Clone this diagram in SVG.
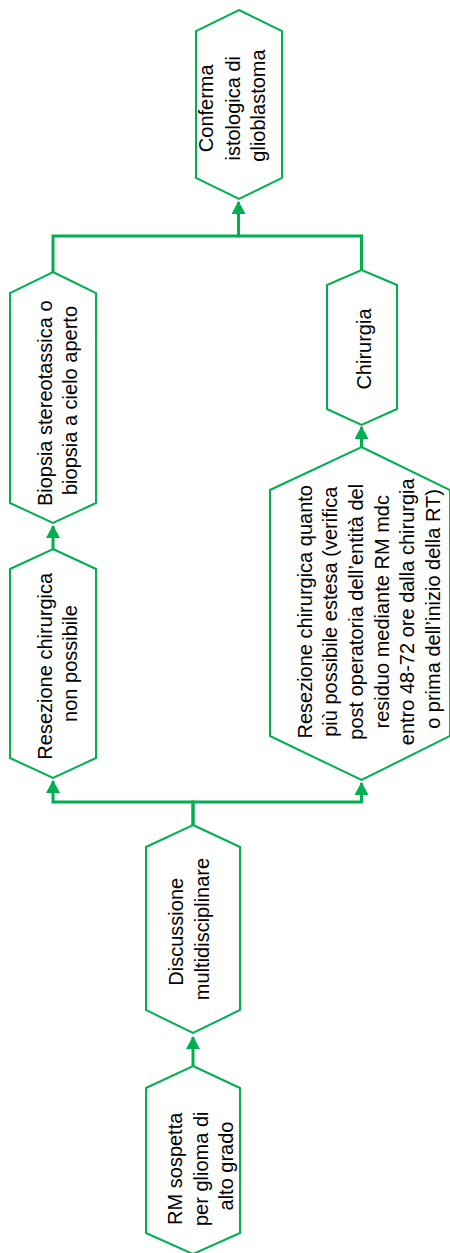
<svg xmlns="http://www.w3.org/2000/svg" width="450" height="1253" viewBox="0 0 450 1253">
  <style>
    .node { fill: #ffffff; stroke: #00B050; stroke-width: 2; stroke-linejoin: miter; }
    .link { fill: none; stroke: #00B050; stroke-width: 3; }
    .label { font-family: "Liberation Sans", Arial, sans-serif; font-size: 20px; fill: #000000; text-anchor: middle; }
  </style>
  <defs>
    <marker id="arrow" viewBox="0 0 13 14" markerWidth="13" markerHeight="14" refX="12" refY="7" orient="auto" markerUnits="userSpaceOnUse">
      <path d="M0,0 L13,7 L0,14 z" fill="#00B050"/>
    </marker>
  </defs>
  <rect width="450" height="1253" fill="#ffffff"/>

  <!-- connectors -->
  <g id="connectors">
    <path class="link" d="M193,1066 V1037" marker-end="url(#arrow)"/>
    <path class="link" d="M193,825 V802 H53 V781" marker-end="url(#arrow)"/>
    <path class="link" d="M193,825 V802 H361.5 V783" marker-end="url(#arrow)"/>
    <path class="link" d="M53,549 V526" marker-end="url(#arrow)"/>
    <path class="link" d="M361.5,447 V427" marker-end="url(#arrow)"/>
    <path class="link" d="M53,272 V236 H238.5 V202" marker-end="url(#arrow)"/>
    <path class="link" d="M361.5,270 V236 H238.5"/>
  </g>

  <!-- RM sospetta -->
  <g id="rm-sospetta">
    <polygon class="node" points="193,1066 240,1088 240,1233 193,1254 146,1233 146,1088"/>
    <text class="label" transform="translate(0,1166) rotate(-90)">
      <tspan x="0" y="182">RM sospetta</tspan>
      <tspan x="0" y="207.5">per glioma di</tspan>
      <tspan x="0" y="233">alto grado</tspan>
    </text>
  </g>

  <!-- Discussione multidisciplinare -->
  <g id="discussione">
    <polygon class="node" points="193,825 240,847 240,1010 193,1033 146,1010 146,847"/>
    <text class="label" transform="translate(0,929) rotate(-90)">
      <tspan x="0" y="183">Discussione</tspan>
      <tspan x="0" y="208.5">multidisciplinare</tspan>
    </text>
  </g>

  <!-- Resezione chirurgica non possibile -->
  <g id="resezione-non-possibile">
    <polygon class="node" points="53,549 96,569 96,758 53,778 10,758 10,569"/>
    <text class="label" transform="translate(0,663.5) rotate(-90)">
      <tspan x="0" y="51.7">Resezione chirurgica</tspan>
      <tspan x="0" y="77.3">non possibile</tspan>
    </text>
  </g>

  <!-- Biopsia -->
  <g id="biopsia">
    <polygon class="node" points="53,272 96,293 96,503 53,523 10,503 10,293"/>
    <text class="label" transform="translate(0,400.5) rotate(-90)">
      <tspan x="0" y="51.7">Biopsia stereotassica o</tspan>
      <tspan x="0" y="77">biopsia a cielo aperto</tspan>
    </text>
  </g>

  <!-- Resezione chirurgica estesa -->
  <g id="resezione-estesa">
    <polygon class="node" points="361.5,447 450,490 450,736 361.5,780 270,736 270,490"/>
    <text class="label" transform="translate(0,609) rotate(-90)">
      <tspan x="0" y="311.5">Resezione chirurgica quanto</tspan>
      <tspan x="0" y="337.2">più possibile estesa (verifica</tspan>
      <tspan x="0" y="362.9">post operatoria dell’entità del</tspan>
      <tspan x="0" y="388.6">residuo mediante RM mdc</tspan>
      <tspan x="0" y="414.3">entro 48-72 ore dalla chirurgia</tspan>
      <tspan x="0" y="440">o prima dell’inizio della RT)</tspan>
    </text>
  </g>

  <!-- Chirurgia -->
  <g id="chirurgia">
    <polygon class="node" points="361.5,270 397,285 397,409 361.5,425 327,409 327,285"/>
    <text class="label" transform="translate(0,349) rotate(-90)">
      <tspan x="0" y="370.7">Chirurgia</tspan>
    </text>
  </g>

  <!-- Conferma istologica -->
  <g id="conferma">
    <polygon class="node" points="239,10 282,31 282,178 239,199 196,178 196,31"/>
    <text class="label" transform="translate(0,105.5) rotate(-90)">
      <tspan x="0" y="213.3">Conferma</tspan>
      <tspan x="0" y="239.5">istologica di</tspan>
      <tspan x="0" y="265">glioblastoma</tspan>
    </text>
  </g>
</svg>
